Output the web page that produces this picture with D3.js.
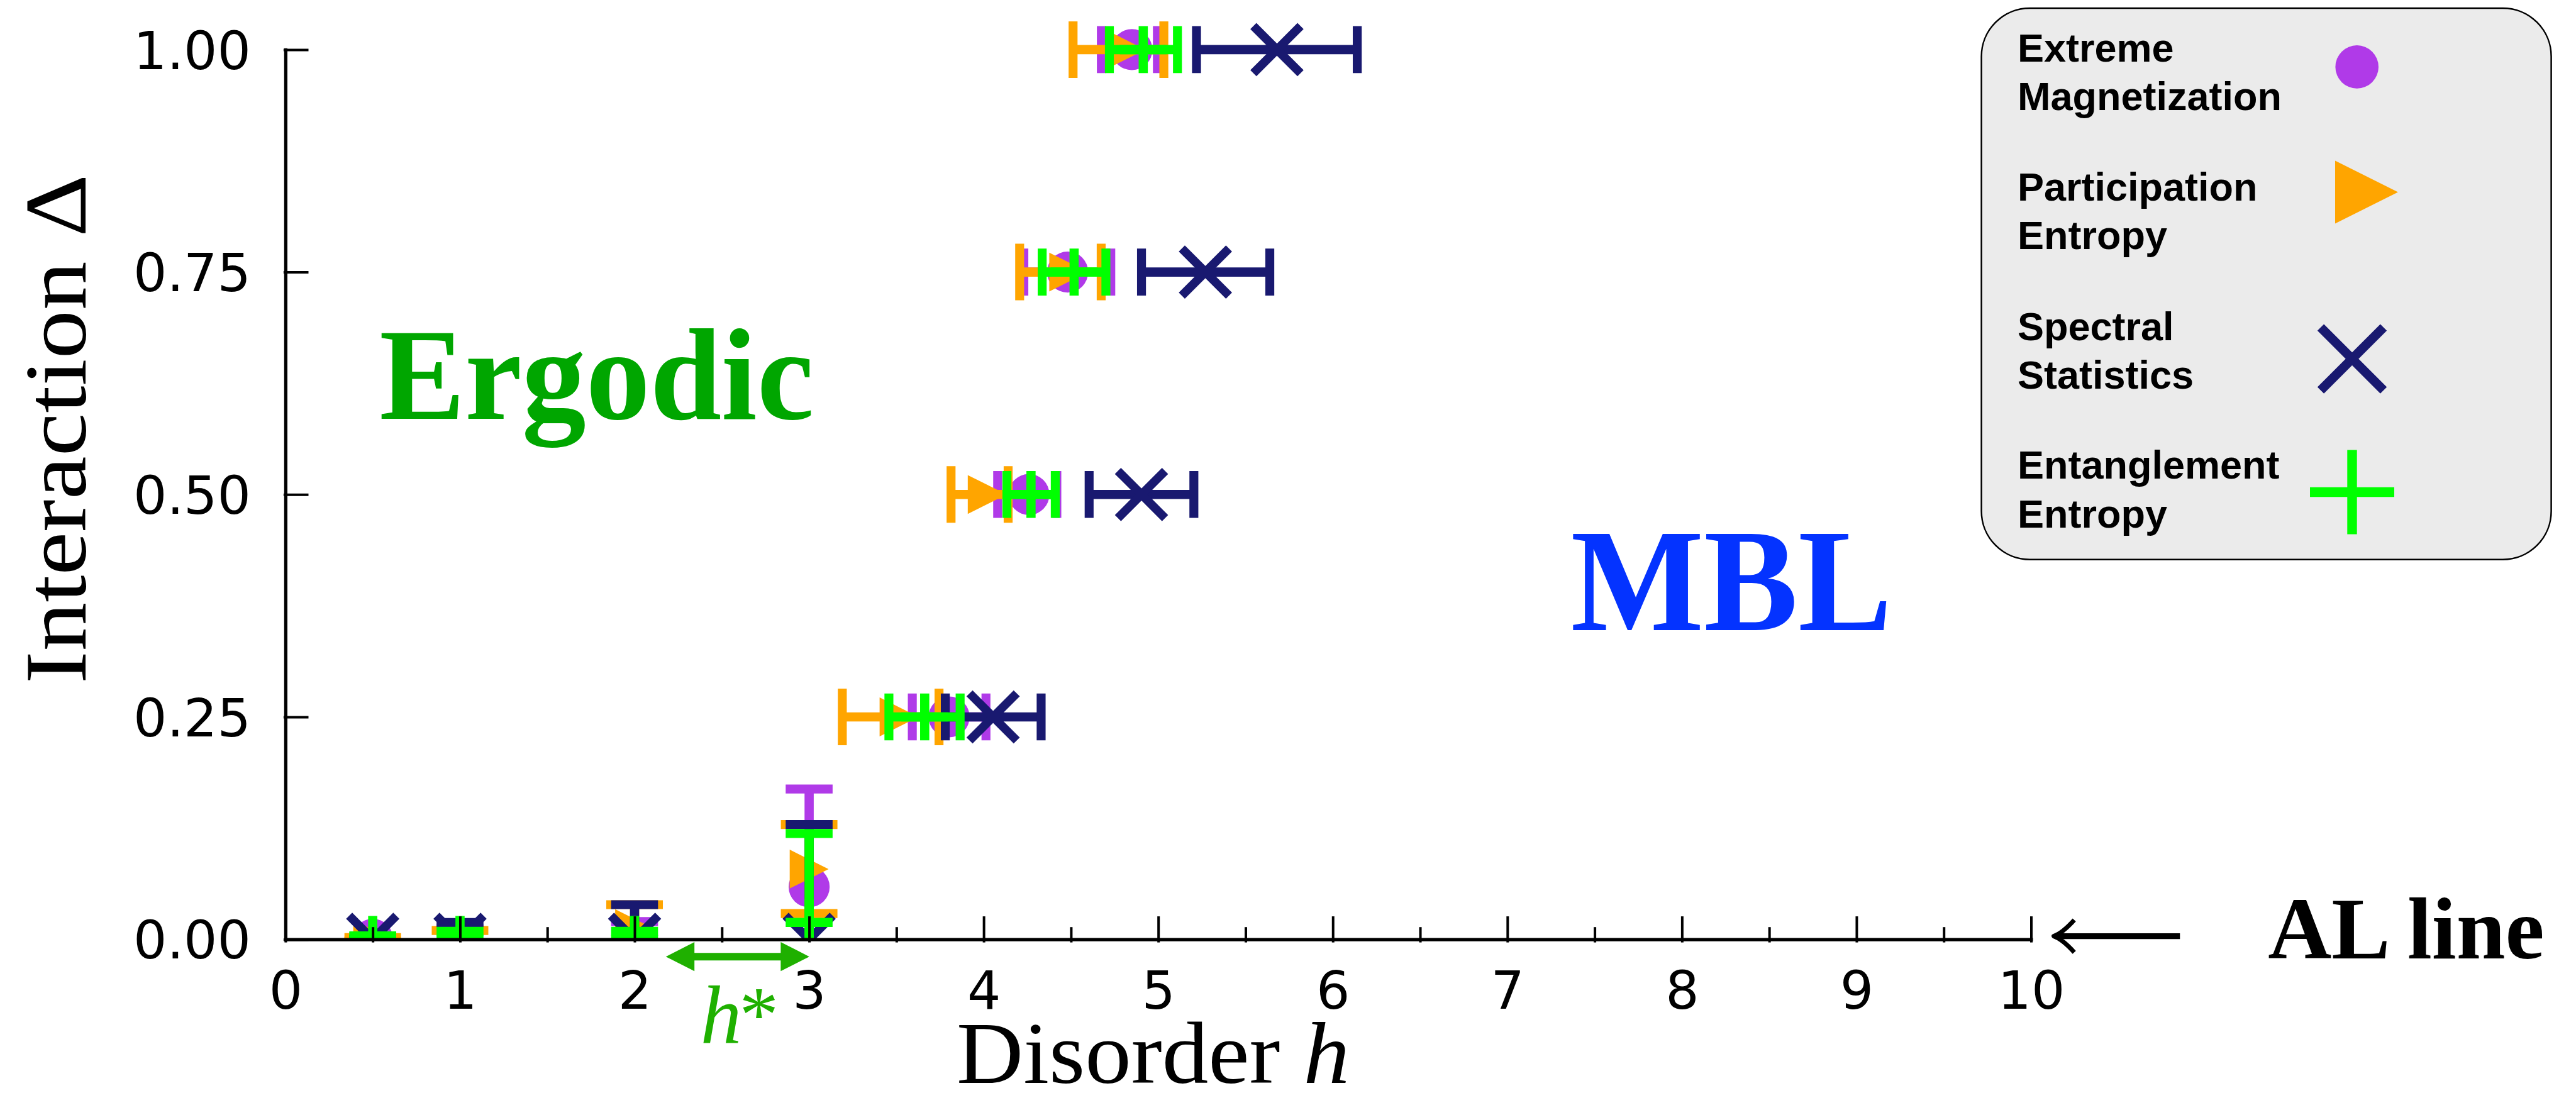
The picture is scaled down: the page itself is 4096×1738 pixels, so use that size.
<!DOCTYPE html>
<html>
<head>
<meta charset="utf-8">
<script src="https://cdn.jsdelivr.net/npm/d3@7"></script>
<style>
  html, body { margin: 0; padding: 0; background: #ffffff; }
  svg { display: block; }
</style>
</head>
<body>
<svg id="chart" width="4096" height="1738"></svg>
<script>
// ---- series metadata ----
const seriesNames = ["Extreme Magnetization", "Participation Entropy", "Spectral Statistics", "Entanglement Entropy"];
const legendLines = [["Extreme", "Magnetization"], ["Participation", "Entropy"], ["Spectral", "Statistics"], ["Entanglement", "Entropy"]];
const seriesColors = ["#b03ae8", "#ffa500", "#191970", "#00ff00"];
const seriesSymbols = ["circle", "triangle", "cross", "plus"];

// ---- transition disorder h_c at fixed interaction Δ ----
const deltaRows = [0.25, 0.50, 0.75, 1.00];
const magH      = [3.802, 4.259, 4.481, 4.849];
const magHLow   = [3.591, 4.080, 4.230, 4.674];
const magHHigh  = [4.013, 4.419, 4.728, 4.995];
const partH     = [3.515, 4.020, 4.487, 4.815];
const partHLow  = [3.190, 3.813, 4.206, 4.512];
const partHHigh = [3.744, 4.140, 4.673, 5.032];
const specH     = [4.054, 4.904, 5.270, 5.680];
const specHLow  = [3.780, 4.604, 4.904, 5.219];
const specHHigh = [4.329, 5.204, 5.639, 6.140];
const entH      = [3.662, 4.271, 4.518, 4.914];
const entHLow   = [3.457, 4.133, 4.335, 4.720];
const entHHigh  = [3.865, 4.410, 4.700, 5.110];

// ---- transition interaction Δ_c at fixed disorder h ----
const hFixed       = [0.5, 1, 2, 3];
const magDelta     = [0, 0, 0, 0.059];
const magDeltaErr  = [0.003, 0.012, 0.020, 0.110];
const partDelta    = [0, 0, 0.012, 0.079];
const partDeltaErr = [0.002, 0.010, 0.027, 0.050];
const specDelta    = [0, 0, 0, 0];
const specDeltaErr = [0, 0.019, 0.039, 0.129];
const entDelta     = [0, 0, 0, 0.019];
const entDeltaErr  = [0.004, 0.009, 0.009, 0.100];

// ---- axis ticks ----
const xMajorTicks = [0, 1, 2, 3, 4, 5, 6, 7, 8, 9, 10];
const xMinorTicks = [0.5, 1.5, 2.5, 3.5, 4.5, 5.5, 6.5, 7.5, 8.5, 9.5];
const yTicks = [0, 0.25, 0.5, 0.75, 1.0];

// ---- assemble series ----
const rowsH = [[magH, magHLow, magHHigh], [partH, partHLow, partHHigh], [specH, specHLow, specHHigh], [entH, entHLow, entHHigh]];
const fixedD = [[magDelta, magDeltaErr], [partDelta, partDeltaErr], [specDelta, specDeltaErr], [entDelta, entDeltaErr]];
const series = seriesNames.map((name, i) => {
  const pts = [];
  deltaRows.forEach((d, j) => pts.push({ dir: "h", h: rowsH[i][0][j], d: d, lo: rowsH[i][1][j], hi: rowsH[i][2][j] }));
  hFixed.forEach((h, j) => pts.push({ dir: "v", h: h, d: fixedD[i][0][j], lo: fixedD[i][0][j] - fixedD[i][1][j], hi: fixedD[i][0][j] + fixedD[i][1][j] }));
  return { name, color: seriesColors[i], symbol: seriesSymbols[i], points: pts, capLen: i === 1 ? 90 : 74.6 };
});

// ---- layout ----
const svg = d3.select("#chart");
svg.append("rect").attr("width", 4096).attr("height", 1738).attr("fill", "#ffffff");

const x = d3.scaleLinear().domain([0, 10]).range([453.9, 3229.5]);
const y = d3.scaleLinear().domain([0, 1]).range([1493.7, 78.9]);

const ERR_W = 14.6, CAP_W = 14.2;

// markers are cut off at the Δ = 0 baseline
svg.append("defs").append("clipPath").attr("id", "plotClip")
  .append("rect").attr("x", 0).attr("y", 0).attr("width", 4096).attr("height", y(0));

function drawSymbol(g, type, cx, cy, color, big) {
  if (type === "circle") {
    g.append("circle").attr("cx", cx).attr("cy", cy).attr("r", big ? 34.3 : 32.6).attr("fill", color);
  } else if (type === "triangle") {
    const s = big ? 100 : 61.8;
    g.append("path")
      .attr("d", `M${cx + s / 2},${cy}L${cx - s / 2},${cy - s / 2}L${cx - s / 2},${cy + s / 2}Z`)
      .attr("fill", color);
  } else if (type === "cross") {
    const a = big ? 50 : 37.5;
    g.append("path")
      .attr("d", `M${cx - a},${cy - a}L${cx + a},${cy + a}M${cx - a},${cy + a}L${cx + a},${cy - a}`)
      .attr("stroke", color).attr("stroke-width", big ? 14.6 : 13.7).attr("fill", "none");
  } else {
    const a = big ? 67 : 37.3;
    g.append("path")
      .attr("d", `M${cx - a},${cy}L${cx + a},${cy}M${cx},${cy - a}L${cx},${cy + a}`)
      .attr("stroke", color).attr("stroke-width", big ? 15.4 : 14.6).attr("fill", "none");
  }
}

// ---- data marks ----
const marks = svg.append("g").attr("clip-path", "url(#plotClip)");
series.forEach(s => {
  const g = marks.append("g").attr("class", "series");
  const half = s.capLen / 2;
  s.points.forEach(p => {
    const cx = x(p.h), cy = y(p.d);
    if (p.dir === "h") {
      g.append("line").attr("x1", x(p.lo)).attr("x2", x(p.hi)).attr("y1", cy).attr("y2", cy)
        .attr("stroke", s.color).attr("stroke-width", ERR_W);
      [p.lo, p.hi].forEach(v => g.append("line")
        .attr("x1", x(v)).attr("x2", x(v)).attr("y1", cy - half).attr("y2", cy + half)
        .attr("stroke", s.color).attr("stroke-width", CAP_W));
    } else {
      g.append("line").attr("x1", cx).attr("x2", cx).attr("y1", y(p.lo)).attr("y2", y(p.hi))
        .attr("stroke", s.color).attr("stroke-width", ERR_W);
      [p.lo, p.hi].forEach(v => g.append("line")
        .attr("x1", cx - half).attr("x2", cx + half).attr("y1", y(v)).attr("y2", y(v))
        .attr("stroke", s.color).attr("stroke-width", CAP_W));
    }
  });
  s.points.forEach(p => drawSymbol(g, s.symbol, x(p.h), y(p.d), s.color, false));
});

// ---- axes ----
const tickFont = "'DejaVu Sans', sans-serif";
const xAxisG = svg.append("g").attr("transform", `translate(0,${y(0)})`)
  .call(d3.axisBottom(x).tickValues(xMajorTicks).tickFormat(d3.format("d"))
    .tickSizeInner(-36.6).tickSizeOuter(0).tickPadding(51));
xAxisG.selectAll(".tick line").attr("y1", 4.9).attr("stroke-width", 4).attr("stroke", "#000");
xAxisG.selectAll(".tick text").attr("font-family", tickFont).attr("font-size", 84).attr("fill", "#000");

const xMinorG = svg.append("g").attr("transform", `translate(0,${y(0)})`)
  .call(d3.axisBottom(x).tickValues(xMinorTicks).tickFormat("").tickSizeInner(-19.5).tickSizeOuter(0));
xMinorG.select(".domain").remove();
xMinorG.selectAll(".tick line").attr("y1", 4.9).attr("stroke-width", 4).attr("stroke", "#000");

const yAxisG = svg.append("g").attr("transform", `translate(${x(0)},0)`)
  .call(d3.axisLeft(y).tickValues(yTicks).tickFormat(d3.format(".2f"))
    .tickSizeInner(-36.6).tickSizeOuter(0).tickPadding(54.9));
yAxisG.selectAll(".tick line").attr("x1", -3).attr("stroke-width", 4).attr("stroke", "#000");
yAxisG.selectAll(".tick text").attr("font-family", tickFont).attr("font-size", 84).attr("dy", "0.36em").attr("fill", "#000");

[xAxisG, yAxisG].forEach(g => g.select(".domain")
  .attr("stroke", "#000").attr("stroke-width", 5.2).attr("stroke-linecap", "square"));

// ---- axis titles ----
const serif = "'Liberation Serif', 'Times New Roman', serif";
svg.append("text")
  .attr("x", 1521).attr("y", 1722)
  .attr("font-family", serif).attr("font-size", 139).attr("fill", "#000")
  .attr("textLength", 514.6).attr("lengthAdjust", "spacingAndGlyphs")
  .text("Disorder");
svg.append("text")
  .attr("x", 2072.4).attr("y", 1722)
  .attr("font-family", serif).attr("font-style", "italic").attr("font-size", 139).attr("fill", "#000")
  .attr("textLength", 73.5).attr("lengthAdjust", "spacingAndGlyphs")
  .text("h");

svg.append("text")
  .attr("transform", "translate(135.6,682) rotate(-90)")
  .attr("text-anchor", "middle")
  .attr("font-family", serif).attr("font-size", 139).attr("fill", "#000")
  .attr("textLength", 810).attr("lengthAdjust", "spacingAndGlyphs")
  .text("Interaction Δ");

// ---- phase labels ----
svg.append("text")
  .attr("x", x(0.538)).attr("y", y(0.585))
  .attr("font-family", serif).attr("font-weight", "bold").attr("font-size", 208)
  .attr("textLength", 691).attr("lengthAdjust", "spacingAndGlyphs")
  .attr("fill", "#00a600").text("Ergodic");

svg.append("text")
  .attr("x", x(7.363)).attr("y", y(0.3475))
  .attr("font-family", serif).attr("font-weight", "bold").attr("font-size", 233)
  .attr("textLength", 511).attr("lengthAdjust", "spacingAndGlyphs")
  .attr("fill", "#0433ff").text("MBL");

// Anderson-localisation line marker
svg.append("text")
  .attr("x", x(11.357)).attr("y", y(-0.0213))
  .attr("font-family", serif).attr("font-weight", "bold").attr("font-size", 140)
  .attr("fill", "#000").text("AL line");

const alY = y(0.0036), alTip = x(10.13), alEnd = x(10.853);
svg.append("line").attr("x1", alTip + 4).attr("x2", alEnd).attr("y1", alY).attr("y2", alY)
  .attr("stroke", "#000").attr("stroke-width", 9.4);
svg.append("path")
  .attr("d", `M${alTip + 32.6},${alY - 25.7}Q${alTip + 14},${alY - 5} ${alTip},${alY}Q${alTip + 14},${alY + 5} ${alTip + 32.6},${alY + 25.7}`)
  .attr("fill", "none").attr("stroke", "#000").attr("stroke-width", 7).attr("stroke-linejoin", "round");

// h* range arrow below the axis
const hsColor = "#1fb000";
const hsY = y(-0.0194), hsL = x(2.179), hsR = x(3.001), headL = 45.5, headH = 23.2;
svg.append("line").attr("x1", hsL + headL - 1).attr("x2", hsR - headL + 1).attr("y1", hsY).attr("y2", hsY)
  .attr("stroke", hsColor).attr("stroke-width", 12);
svg.append("path").attr("d", `M${hsL},${hsY}L${hsL + headL},${hsY - headH}L${hsL + headL},${hsY + headH}Z`).attr("fill", hsColor);
svg.append("path").attr("d", `M${hsR},${hsY}L${hsR - headL},${hsY - headH}L${hsR - headL},${hsY + headH}Z`).attr("fill", hsColor);
svg.append("text")
  .attr("x", x(2.377)).attr("y", y(-0.1165))
  .attr("font-family", serif).attr("font-style", "italic").attr("font-size", 131)
  .attr("fill", hsColor).text("h");
svg.append("text")
  .attr("x", x(2.60)).attr("y", y(-0.1137))
  .attr("font-family", serif).attr("font-size", 125)
  .attr("fill", hsColor).text("*");

// ---- legend ----
const legend = svg.append("g");
legend.append("rect")
  .attr("x", 3150.6).attr("y", 12.9).attr("width", 906).attr("height", 876.8)
  .attr("rx", 77).attr("ry", 77)
  .attr("fill", "#ebebeb").attr("stroke", "#000").attr("stroke-width", 2.5);
const legendBaselines = [[97.8, 175], [319, 396], [540.5, 617.7], [761, 839]];
const legendMarkers = [[3747.7, 106.4], [3763, 305.4], [3740, 570.6], [3740, 782.5]];
series.forEach((s, i) => {
  legendLines[i].forEach((line, k) => legend.append("text")
    .attr("x", 3208).attr("y", legendBaselines[i][k])
    .attr("font-family", "'Liberation Sans', Arial, sans-serif").attr("font-weight", "bold")
    .attr("font-size", 63).attr("fill", "#000").text(line));
  drawSymbol(legend, s.symbol, legendMarkers[i][0], legendMarkers[i][1], s.color, true);
});
</script>
</body>
</html>
